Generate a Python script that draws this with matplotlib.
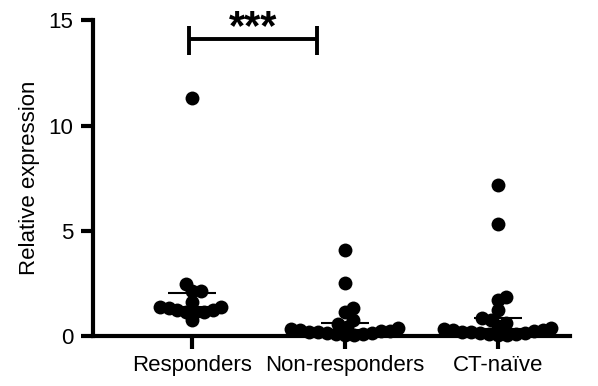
import numpy as np
import matplotlib
matplotlib.use('Agg')
import matplotlib.pyplot as plt

plt.rcParams['font.family'] = ['Liberation Sans', 'DejaVu Sans']

# values
groups = ['Responders', 'Non-responders', 'CT-naïve']
responders = [11.3, 2.48, 2.16, 2.16, 1.63, 1.4, 1.4, 1.33, 1.24, 1.24,
              1.16, 1.16, 1.16, 0.76]
non_responders = [4.1, 2.54, 1.33, 1.16, 0.76, 0.57, 0.45, 0.38, 0.32,
                  0.28, 0.25, 0.22, 0.2, 0.18, 0.15, 0.12, 0.1, 0.08,
                  0.05, 0.03]
ct_naive = [7.19, 5.33, 1.87, 1.71, 1.24, 0.86, 0.76, 0.62, 0.48, 0.4,
            0.33, 0.3, 0.27, 0.24, 0.2, 0.18, 0.15, 0.12, 0.1, 0.08,
            0.05, 0.03]
yticks = [0, 5, 10, 15]
sig_label = '***'

PX_X = 153.0   # pixels per category step
PX_Y = 21.0    # pixels per unit of y
DOT = 9.0      # min distance between dot centres in pixels


def swarm(vals, d=DOT):
    '''simple beeswarm: place each point as close to centre as possible'''
    order = np.argsort(vals)
    ys = np.asarray(vals, dtype=float) * PX_Y
    xs = np.zeros(len(vals))
    placed = []
    for i in order:
        y = ys[i]
        cands = [0.0]
        for j in placed:
            dy = y - ys[j]
            if abs(dy) < d:
                dx = np.sqrt(d ** 2 - dy ** 2)
                cands += [xs[j] + dx, xs[j] - dx]
        cands.sort(key=abs)
        for c in cands:
            ok = all((c - xs[j]) ** 2 + (y - ys[j]) ** 2 >= d ** 2 - 1e-6
                     for j in placed)
            if ok:
                xs[i] = c
                break
        placed.append(i)
    return xs / PX_X


fig = plt.figure(figsize=(5.98, 3.86), dpi=100)
ax = fig.add_axes([0.1555, 0.1295, 0.953 - 0.1555, 0.947 - 0.1295])

for k, vals in enumerate([responders, non_responders, ct_naive]):
    off = swarm(vals)
    ax.scatter(k + off, vals, s=100, color='black', zorder=3,
               clip_on=False, linewidths=0)
    q1, med, q3 = np.percentile(vals, [25, 50, 75])
    ax.hlines(med, k - 0.22, k + 0.22, color='black', lw=1.5, zorder=2)
    ax.hlines([q1, q3], k - 0.155, k + 0.155, color='black', lw=1.5,
              zorder=2)
    ax.vlines(k, q1, q3, color='black', lw=1.5, zorder=2)

ax.set_xlim(-0.647, 2.47)
ax.set_ylim(0, 15)
ax.set_yticks(yticks)
ax.set_xticks(range(len(groups)))
ax.set_xticklabels(groups)
ax.set_ylabel('Relative expression', fontsize=16, labelpad=6)

for side in ['top', 'right']:
    ax.spines[side].set_visible(False)
for side in ['left', 'bottom']:
    ax.spines[side].set_linewidth(3)
ax.tick_params(axis='both', width=3, length=9, labelsize=16, pad=5)

# significance bracket
bx0, bx1, by = -0.02, 0.82, 14.1
ax.plot([bx0, bx1], [by, by], color='black', lw=2.8, clip_on=False,
        solid_capstyle='butt')
ax.plot([bx0, bx0], [13.38, 14.72], color='black', lw=2.8, clip_on=False,
        solid_capstyle='butt')
ax.plot([bx1, bx1], [13.38, 14.72], color='black', lw=2.8, clip_on=False,
        solid_capstyle='butt')
ax.text((bx0 + bx1) / 2, 14.1, sig_label, ha='center', va='baseline',
        fontsize=30, fontweight='bold')

fig.savefig('out.png', dpi=100)
